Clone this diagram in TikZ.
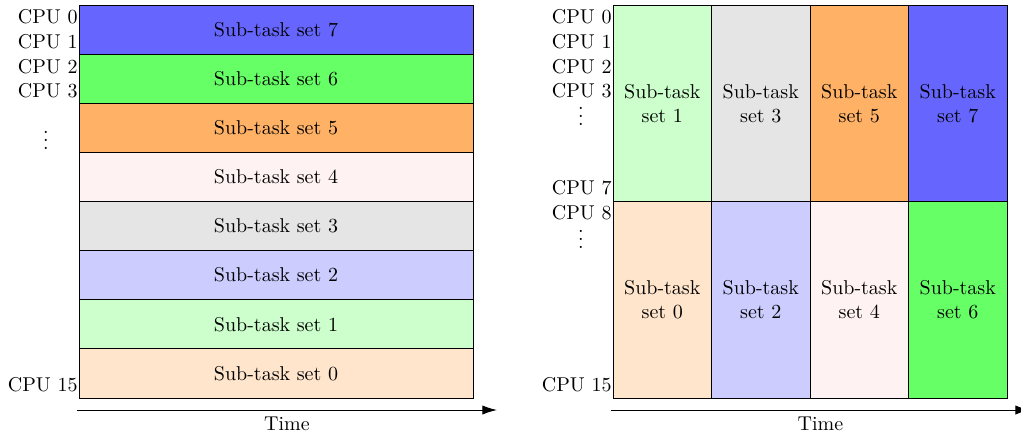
\documentclass[tikz,border=0pt]{standalone}
\usetikzlibrary{positioning,arrows.meta}
\newcommand{\cpudots}{\vbox{\baselineskip4pt\lineskiplimit0pt\hbox{.}\hbox{.}\hbox{.}}}
\tikzset{
	rowbox/.style={draw, fill=#1, minimum width=197pt, minimum height=24.56pt, outer sep=0pt, inner sep=0pt},
	colbox/.style={draw, fill=#1, minimum width=49.25pt, minimum height=98.25pt, outer sep=0pt, inner sep=0pt, align=center},
	cpu/.style={anchor=east, inner sep=0.5pt},
	dots/.style={inner sep=0pt},
	timeline/.style={line width=0.5pt, -{Latex[length=7.3pt,width=4.6pt]}}
}
\begin{document}
\begin{tikzpicture}[x=0.5pt,y=-0.5pt]
\useasboundingbox (0,0) rectangle (1021,439);
% left: every set runs on all cpus, one after the other
\node [rowbox=blue!60, anchor=north west] (l7) at (79,5) {Sub-task set 7};
\node [rowbox=green!60, below=0pt of l7] (l6) {Sub-task set 6};
\node [rowbox=orange!60, below=0pt of l6] (l5) {Sub-task set 5};
\node [rowbox=red!5, below=0pt of l5] (l4) {Sub-task set 4};
\node [rowbox=gray!20, below=0pt of l4] (l3) {Sub-task set 3};
\node [rowbox=blue!20, below=0pt of l3] (l2) {Sub-task set 2};
\node [rowbox=green!20, below=0pt of l2] (l1) {Sub-task set 1};
\node [rowbox=orange!20, below=0pt of l1] (l0) {Sub-task set 0};
\node [cpu] (lc0) at (79,17) {CPU 0};
\node [cpu] (lc1) at (79,42) {CPU 1};
\node [cpu] (lc2) at (79,67) {CPU 2};
\node [cpu] (lc3) at (79,91) {CPU 3};
\node [dots] (ldots) at (46,140) {\cpudots};
\node [cpu] (lc15) at (79,385) {CPU 15};
\coordinate (ls) at (77,410);
\coordinate (le) at (497,410);
\draw [timeline] (ls) -- node [below] {Time} (le);
% right: two sets side by side, 8 cpus each
\node [colbox=green!20, anchor=north west] (r1) at (613,5) {Sub-task\\set 1};
\node [colbox=gray!20, right=0pt of r1] (r3) {Sub-task\\set 3};
\node [colbox=orange!60, right=0pt of r3] (r5) {Sub-task\\set 5};
\node [colbox=blue!60, right=0pt of r5] (r7) {Sub-task\\set 7};
\node [colbox=orange!20, below=0pt of r1] (r0) {Sub-task\\set 0};
\node [colbox=blue!20, below=0pt of r3] (r2) {Sub-task\\set 2};
\node [colbox=red!5, below=0pt of r5] (r4) {Sub-task\\set 4};
\node [colbox=green!60, below=0pt of r7] (r6) {Sub-task\\set 6};
\node [cpu] (rc0) at (613,17) {CPU 0};
\node [cpu] (rc1) at (613,42) {CPU 1};
\node [cpu] (rc2) at (613,67) {CPU 2};
\node [cpu] (rc3) at (613,91) {CPU 3};
\node [dots] (rdots1) at (581,116) {\cpudots};
\node [cpu] (rc7) at (613,188) {CPU 7};
\node [cpu] (rc8) at (613,213) {CPU 8};
\node [dots] (rdots2) at (581,239) {\cpudots};
\node [cpu] (rc15) at (613,385) {CPU 15};
\coordinate (rs) at (611,410);
\coordinate (re) at (1030,410);
\draw [timeline] (rs) -- node [below] {Time} (re);
\end{tikzpicture}
\end{document}
